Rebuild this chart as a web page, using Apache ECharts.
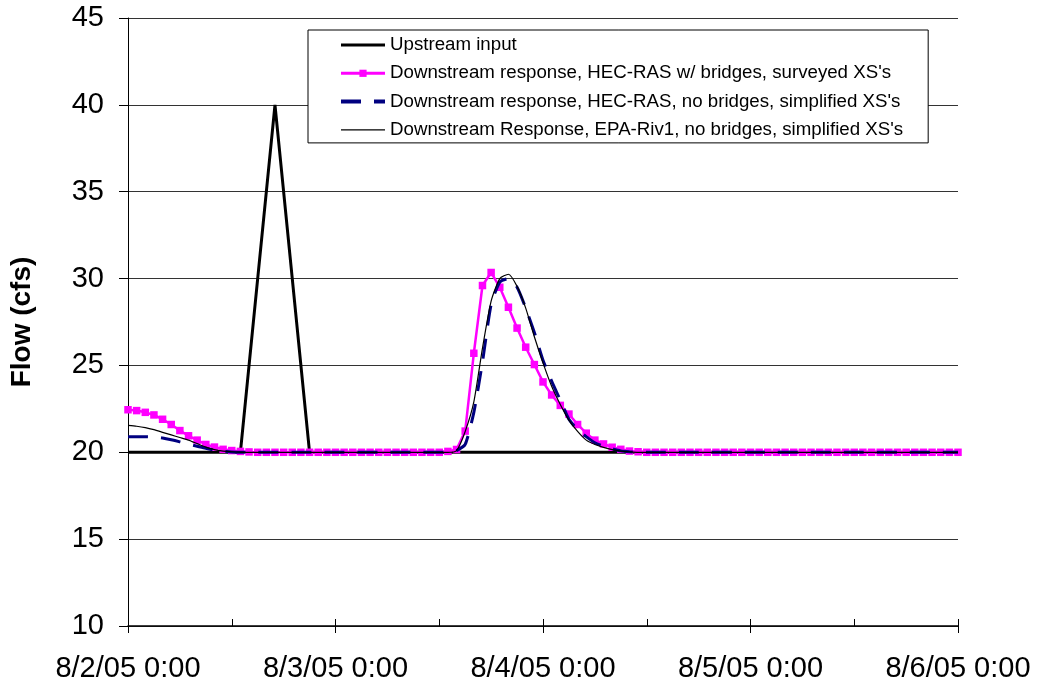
<!DOCTYPE html>
<html>
<head>
<meta charset="utf-8">
<script src="https://cdn.jsdelivr.net/npm/echarts@6/dist/echarts.min.js"></script>
<style>
html,body{margin:0;padding:0;background:#fff;}
#chart{width:1037px;height:685px;}
</style>
</head>
<body>
<div id="chart"></div>
<script>
// Hours since 8/2/05 0:00 (hourly samples 0..96)
var xTickLabels = ['8/2/05 0:00', '8/3/05 0:00', '8/4/05 0:00', '8/5/05 0:00', '8/6/05 0:00'];
var seriesNames = [
  'Upstream input',
  "Downstream response, HEC-RAS w/ bridges, surveyed XS's",
  "Downstream response, HEC-RAS, no bridges, simplified XS's",
  "Downstream Response, EPA-Riv1, no bridges, simplified XS's"
];

// Upstream input (hours, cfs)
var upstreamHours = [0, 13, 17, 21, 96];
var upstreamFlow  = [20, 20, 40, 20, 20];

// HEC-RAS w/ bridges, surveyed XS's (hourly, hour 0..96)
var hecBridges = [
  22.45, 22.4, 22.3, 22.15, 21.9, 21.6, 21.25, 20.95, 20.7, 20.45,
  20.3, 20.17, 20.1, 20.05, 20.02, 20, 20, 20, 20, 20,
  20, 20, 20, 20, 20, 20, 20, 20, 20, 20,
  20, 20, 20, 20, 20, 20, 20, 20.05, 20.16, 21.22,
  25.7, 29.6, 30.35, 29.5, 28.35, 27.15, 26.05, 25.05, 24.05, 23.3,
  22.7, 22.2, 21.6, 21.1, 20.7, 20.48, 20.29, 20.17, 20.07, 20.03,
  20, 20, 20, 20, 20, 20, 20, 20, 20, 20,
  20, 20, 20, 20, 20, 20, 20, 20, 20, 20,
  20, 20, 20, 20, 20, 20, 20, 20, 20, 20,
  20, 20, 20, 20, 20, 20, 20
];

// HEC-RAS, no bridges, simplified XS's (hourly)
var hecNoBridges = [
  20.9, 20.9, 20.9, 20.88, 20.82, 20.72, 20.6, 20.47, 20.35, 20.23,
  20.13, 20.06, 20.02, 20, 20, 20, 20, 20, 20, 20,
  20, 20, 20, 20, 20, 20, 20, 20, 20, 20,
  20, 20, 20, 20, 20, 20, 20, 20, 20.1, 20.45,
  22.3, 25.2, 28.5, 29.8, 30.0, 29.5, 28.3, 26.9, 25.3, 24.1,
  23.0, 21.9, 21.3, 20.9, 20.55, 20.35, 20.2, 20.08, 20.03, 20,
  20, 20, 20, 20, 20, 20, 20, 20, 20, 20,
  20, 20, 20, 20, 20, 20, 20, 20, 20, 20,
  20, 20, 20, 20, 20, 20, 20, 20, 20, 20,
  20, 20, 20, 20, 20, 20, 20
];

// EPA-Riv1, no bridges, simplified XS's (hourly)
var epaRiv1 = [
  21.55, 21.5, 21.42, 21.3, 21.15, 21.0, 20.85, 20.7, 20.5, 20.3,
  20.15, 20.07, 20.03, 20.01, 20, 20, 20, 20, 20, 20,
  20, 20, 20, 20, 20, 20, 20, 20, 20, 20,
  20, 20, 20, 20, 20, 20, 20, 20, 20.1, 21.2,
  22.9, 26.0, 28.7, 30.0, 30.25, 29.55, 28.3, 26.65, 25.15, 23.8,
  22.75, 21.85, 21.2, 20.7, 20.45, 20.28, 20.15, 20.07, 20.03, 20,
  20, 20, 20, 20, 20, 20, 20, 20, 20, 20,
  20, 20, 20, 20, 20, 20, 20, 20, 20, 20,
  20, 20, 20, 20, 20, 20, 20, 20, 20, 20,
  20, 20, 20, 20, 20, 20, 20
];

function pairs(xs, ys) { return ys.map(function (y, i) { return [xs[i], y]; }); }
function hourly(ys) { return ys.map(function (y, i) { return [i, y]; }); }

var FONT = '"Liberation Sans", Arial, sans-serif';
var chart = echarts.init(document.getElementById('chart'), null, {renderer: 'canvas'});
chart.setOption({
  animation: false,
  backgroundColor: '#ffffff',
  textStyle: {fontFamily: FONT},
  grid: {left: 128, right: 79, top: 18, bottom: 59, containLabel: false},
  legend: {
    orient: 'vertical',
    left: 308, top: 30,
    padding: [5, 25, 3, 31],
    itemWidth: 44, itemHeight: 9, itemGap: 8.3,
    borderColor: '#000', borderWidth: 1,
    backgroundColor: '#ffffff',
    textStyle: {fontFamily: FONT, fontSize: 18.7, color: '#000', lineHeight: 20},
    data: [
      {name: seriesNames[0], itemStyle: {opacity: 0}, lineStyle: {width: 3, color: '#000'}},
      {name: seriesNames[1], lineStyle: {width: 3, color: '#ff00ff'}},
      {name: seriesNames[2], itemStyle: {opacity: 0}, lineStyle: {width: 4, color: '#000080', type: [20, 13]}},
      {name: seriesNames[3], itemStyle: {opacity: 0}, lineStyle: {width: 1.2, color: '#000'}}
    ]
  },
  xAxis: [{
    type: 'value', min: 0, max: 96, interval: 24,
    axisLine: {show: true, onZero: false, lineStyle: {color: '#000', width: 1.5}},
    axisTick: {show: true, inside: false, length: 7, lineStyle: {color: '#000', width: 1}},
    axisLabel: {fontFamily: FONT, fontSize: 29, color: '#000', margin: 28,
      formatter: function (v) { return xTickLabels[Math.round(v / 24)]; }},
    splitLine: {show: false}
  }, {
    type: 'value', min: 0, max: 96, interval: 12, position: 'bottom',
    axisLine: {show: false},
    axisTick: {show: true, inside: true, length: 7, lineStyle: {color: '#000', width: 1}},
    axisLabel: {show: false},
    splitLine: {show: false}
  }],
  yAxis: {
    type: 'value', min: 10, max: 45, interval: 5,
    name: 'Flow (cfs)', nameLocation: 'middle', nameGap: 92, nameRotate: 90,
    nameTextStyle: {fontFamily: FONT, fontSize: 28, fontWeight: 'bold', color: '#000'},
    axisLine: {show: true, lineStyle: {color: '#000', width: 1}},
    axisTick: {show: true, inside: false, length: 9, lineStyle: {color: '#000'}},
    axisLabel: {fontFamily: FONT, fontSize: 29, color: '#000', margin: 24},
    splitLine: {show: true, lineStyle: {color: '#333', width: 1}}
  },
  series: [{
    name: seriesNames[0], type: 'line', data: pairs(upstreamHours, upstreamFlow),
    symbol: 'none', lineStyle: {color: '#000', width: 3}, itemStyle: {color: '#000'}, z: 2
  }, {
    name: seriesNames[1], type: 'line', data: hourly(hecBridges),
    symbol: 'rect', symbolSize: 7.5, showAllSymbol: true,
    lineStyle: {color: '#ff00ff', width: 2.5}, itemStyle: {color: '#ff00ff'}, z: 3
  }, {
    name: seriesNames[2], type: 'line', data: hourly(hecNoBridges),
    symbol: 'none', smooth: 0.2,
    lineStyle: {color: '#000080', width: 3, type: [20, 13]}, itemStyle: {color: '#000080'}, z: 4
  }, {
    name: seriesNames[3], type: 'line', data: hourly(epaRiv1),
    symbol: 'none', smooth: 0.2,
    lineStyle: {color: '#000', width: 1.2}, itemStyle: {color: '#000'}, z: 5
  }]
});
</script>
</body>
</html>
